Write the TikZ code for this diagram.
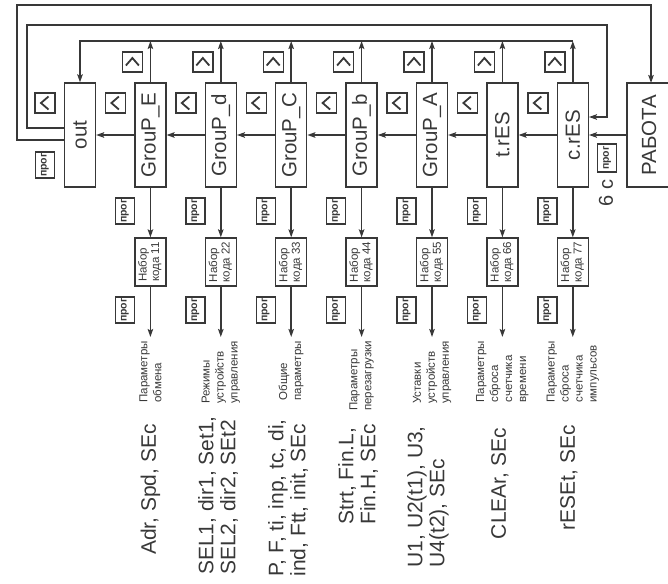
\documentclass[tikz,border=0pt]{standalone}
\usepackage{fontspec}
\setmainfont{Liberation Sans}
\usetikzlibrary{arrows.meta}
\definecolor{ink}{HTML}{383838}
\begin{document}
\begin{tikzpicture}[x=1pt,y=-1pt,
  ln/.style={draw=ink, line width=1.5pt},
  arr/.style={ln, -{Stealth[length=8pt,width=5.5pt,inset=1.5pt]}},
  grp/.style={draw=ink, line width=1.3pt, minimum width=31pt, minimum height=104pt, inner sep=0pt, text=ink, font=\fontsize{20.5}{22}\selectfont},
  nab/.style={draw=ink, line width=1.3pt, minimum width=31pt, minimum height=48pt, inner sep=0pt, text=ink, font=\fontsize{11.5}{12.5}\selectfont},
  prog/.style={draw=ink, line width=1.4pt, minimum width=19pt, minimum height=26pt, inner sep=0pt, text=ink, font=\bfseries\fontsize{10.5}{11}\selectfont},
  key/.style={draw=ink, line width=1.4pt, minimum size=20pt, inner sep=0pt},
  chev/.style={draw=ink, line width=1.8pt},
  desc/.style={rotate=90, anchor=east, inner sep=0pt, align=left, text=ink, font=\fontsize{11.5}{14}\selectfont},
  big/.style={rotate=90, anchor=east, inner sep=0pt, align=left, text=ink, font=\fontsize{21}{22}\selectfont},
  lab/.style={rotate=90, inner sep=0pt, text=ink, font=\fontsize{20}{22}\selectfont}
]
\useasboundingbox (0,0) rectangle (668,583);

% main boxes
\node[grp] (out) at (80,135) {\rotatebox{90}{out}};
\node[grp] (gE) at (150.4,135) {\rotatebox{90}{GrouP\_E}};
\node[grp] (gd) at (220.8,135) {\rotatebox{90}{GrouP\_d}};
\node[grp] (gC) at (291.2,135) {\rotatebox{90}{GrouP\_C}};
\node[grp] (gb) at (361.6,135) {\rotatebox{90}{GrouP\_b}};
\node[grp] (gA) at (432,135) {\rotatebox{90}{GrouP\_A}};
\node[grp] (tr) at (502.4,135) {\rotatebox{90}{t.rES}};
\node[grp] (cr) at (572.8,135) {\rotatebox{90}{c.rES}};
\node[grp, minimum width=44pt] (rab) at (649,135) {\rotatebox{90}{РАБОТА}};

% horizontal chain
\draw[arr] (rab) -- (cr);
\draw[arr] (cr) -- (tr);
\draw[arr] (tr) -- (gA);
\draw[arr] (gA) -- (gb);
\draw[arr] (gb) -- (gC);
\draw[arr] (gC) -- (gd);
\draw[arr] (gd) -- (gE);
\draw[arr] (gE) -- (out);

% top collector
\coordinate (topR) at (572.8,41);
\draw[arr] (topR) -| (out.north);
\foreach \b in {gE,gd,gC,gb,gA,tr,cr}
  \draw[arr] (\b.north) -- (\b.north |- topR);

% outer loops
\coordinate (rabIn) at (651,83);
\draw[arr] (out.west |- 0,140) -- (17,140) -- (17,5) -- (651,5) -- (rabIn);
\draw[arr] (out.west |- 0,128) -- (27,128) -- (27,25) -- (607,25) -- (607,117) -- (cr.east |- 0,117);

% up keys
\foreach \b [count=\i] in {gE,gd,gC,gb,gA,tr,cr}{
  \node[key] (up\i) at ([xshift=-18pt]\b.north |- 0,62) {};
  \draw[chev] ([shift={(-6.5,3.5)}]up\i.center) -- ++(6.5,-7.5) -- ++(6.5,7.5);
}
% left keys
\foreach \b [count=\i] in {out,gE,gd,gC,gb,gA,tr,cr}{
  \node[key] (lf\i) at ([xshift=-35pt]\b.center |- 0,103) {};
  \draw[chev] ([shift={(3.5,-6.5)}]lf\i.center) -- ++(-7.5,6.5) -- ++(7.5,6.5);
}

% prog keys near chain
\node[prog] (pOut) at (45,165) {\rotatebox{90}{прог}};
\node[prog, minimum height=28pt] (pRab) at (607,158) {\rotatebox{90}{прог}};
\node[lab] (six) at (606,193) {6 с};

% code boxes
\node[nab] (nE) at (150.4,262) {\rotatebox{90}{\begin{tabular}{@{}l@{}}Набор\\кода 11\end{tabular}}};
\node[nab] (nd) at (220.8,262) {\rotatebox{90}{\begin{tabular}{@{}l@{}}Набор\\кода 22\end{tabular}}};
\node[nab] (nC) at (291.2,262) {\rotatebox{90}{\begin{tabular}{@{}l@{}}Набор\\кода 33\end{tabular}}};
\node[nab] (nb) at (361.6,262) {\rotatebox{90}{\begin{tabular}{@{}l@{}}Набор\\кода 44\end{tabular}}};
\node[nab] (nA) at (432,262) {\rotatebox{90}{\begin{tabular}{@{}l@{}}Набор\\кода 55\end{tabular}}};
\node[nab] (nt) at (502.4,262) {\rotatebox{90}{\begin{tabular}{@{}l@{}}Набор\\кода 66\end{tabular}}};
\node[nab] (nc) at (572.8,262) {\rotatebox{90}{\begin{tabular}{@{}l@{}}Набор\\кода 77\end{tabular}}};

\foreach \g/\n [count=\i] in {gE/nE,gd/nd,gC/nC,gb/nb,gA/nA,tr/nt,cr/nc}{
  \draw[arr] (\g.south) -- (\n.north);
  \draw[arr] (\n.south) -- (\n.south |- 0,337);
  \node[prog] (pa\i) at ([xshift=-25.5pt]\g.south |- 0,211) {\rotatebox{90}{прог}};
  \node[prog] (pb\i) at ([xshift=-25.5pt]\g.south |- 0,310) {\rotatebox{90}{прог}};
}

% descriptions
\node[desc] (dE) at (150.4,341) {Параметры\\обмена};
\node[desc] (dd) at (220.8,341) {Режимы\\устройств\\управления};
\node[desc] (dC) at (291.2,341) {Общие\\параметры};
\node[desc] (db) at (361.6,341) {Параметры\\перезагрузки};
\node[desc] (dA) at (432,341) {Уставки\\устройств\\управления};
\node[desc] (dt) at (502.4,341) {Параметры\\сброса\\счетчика\\времени};
\node[desc] (dc) at (572.8,341) {Параметры\\сброса\\счетчика\\импульсов};

% parameter lists
\node[big] (bE) at (150.4,424) {Adr, Spd, SEc};
\node[big] (bd) at (218,416) {SEL1, dir1, Set1,\\SEL2, dir2, SEt2};
\node[big] (bC) at (288,419) {P, F, ti, inp, tc, di,\\ind, Ftt, init, SEc};
\node[big] (bb) at (358,424) {Strt, Fin.L,\\Fin.H, SEc};
\node[big] (bA) at (428,426) {U1, U2(t1), U3,\\U4(t2), SEc};
\node[big] (bt) at (500,428) {CLEAr, SEc};
\node[big] (bc) at (569,425) {rESEt, SEc};
\end{tikzpicture}
\end{document}
